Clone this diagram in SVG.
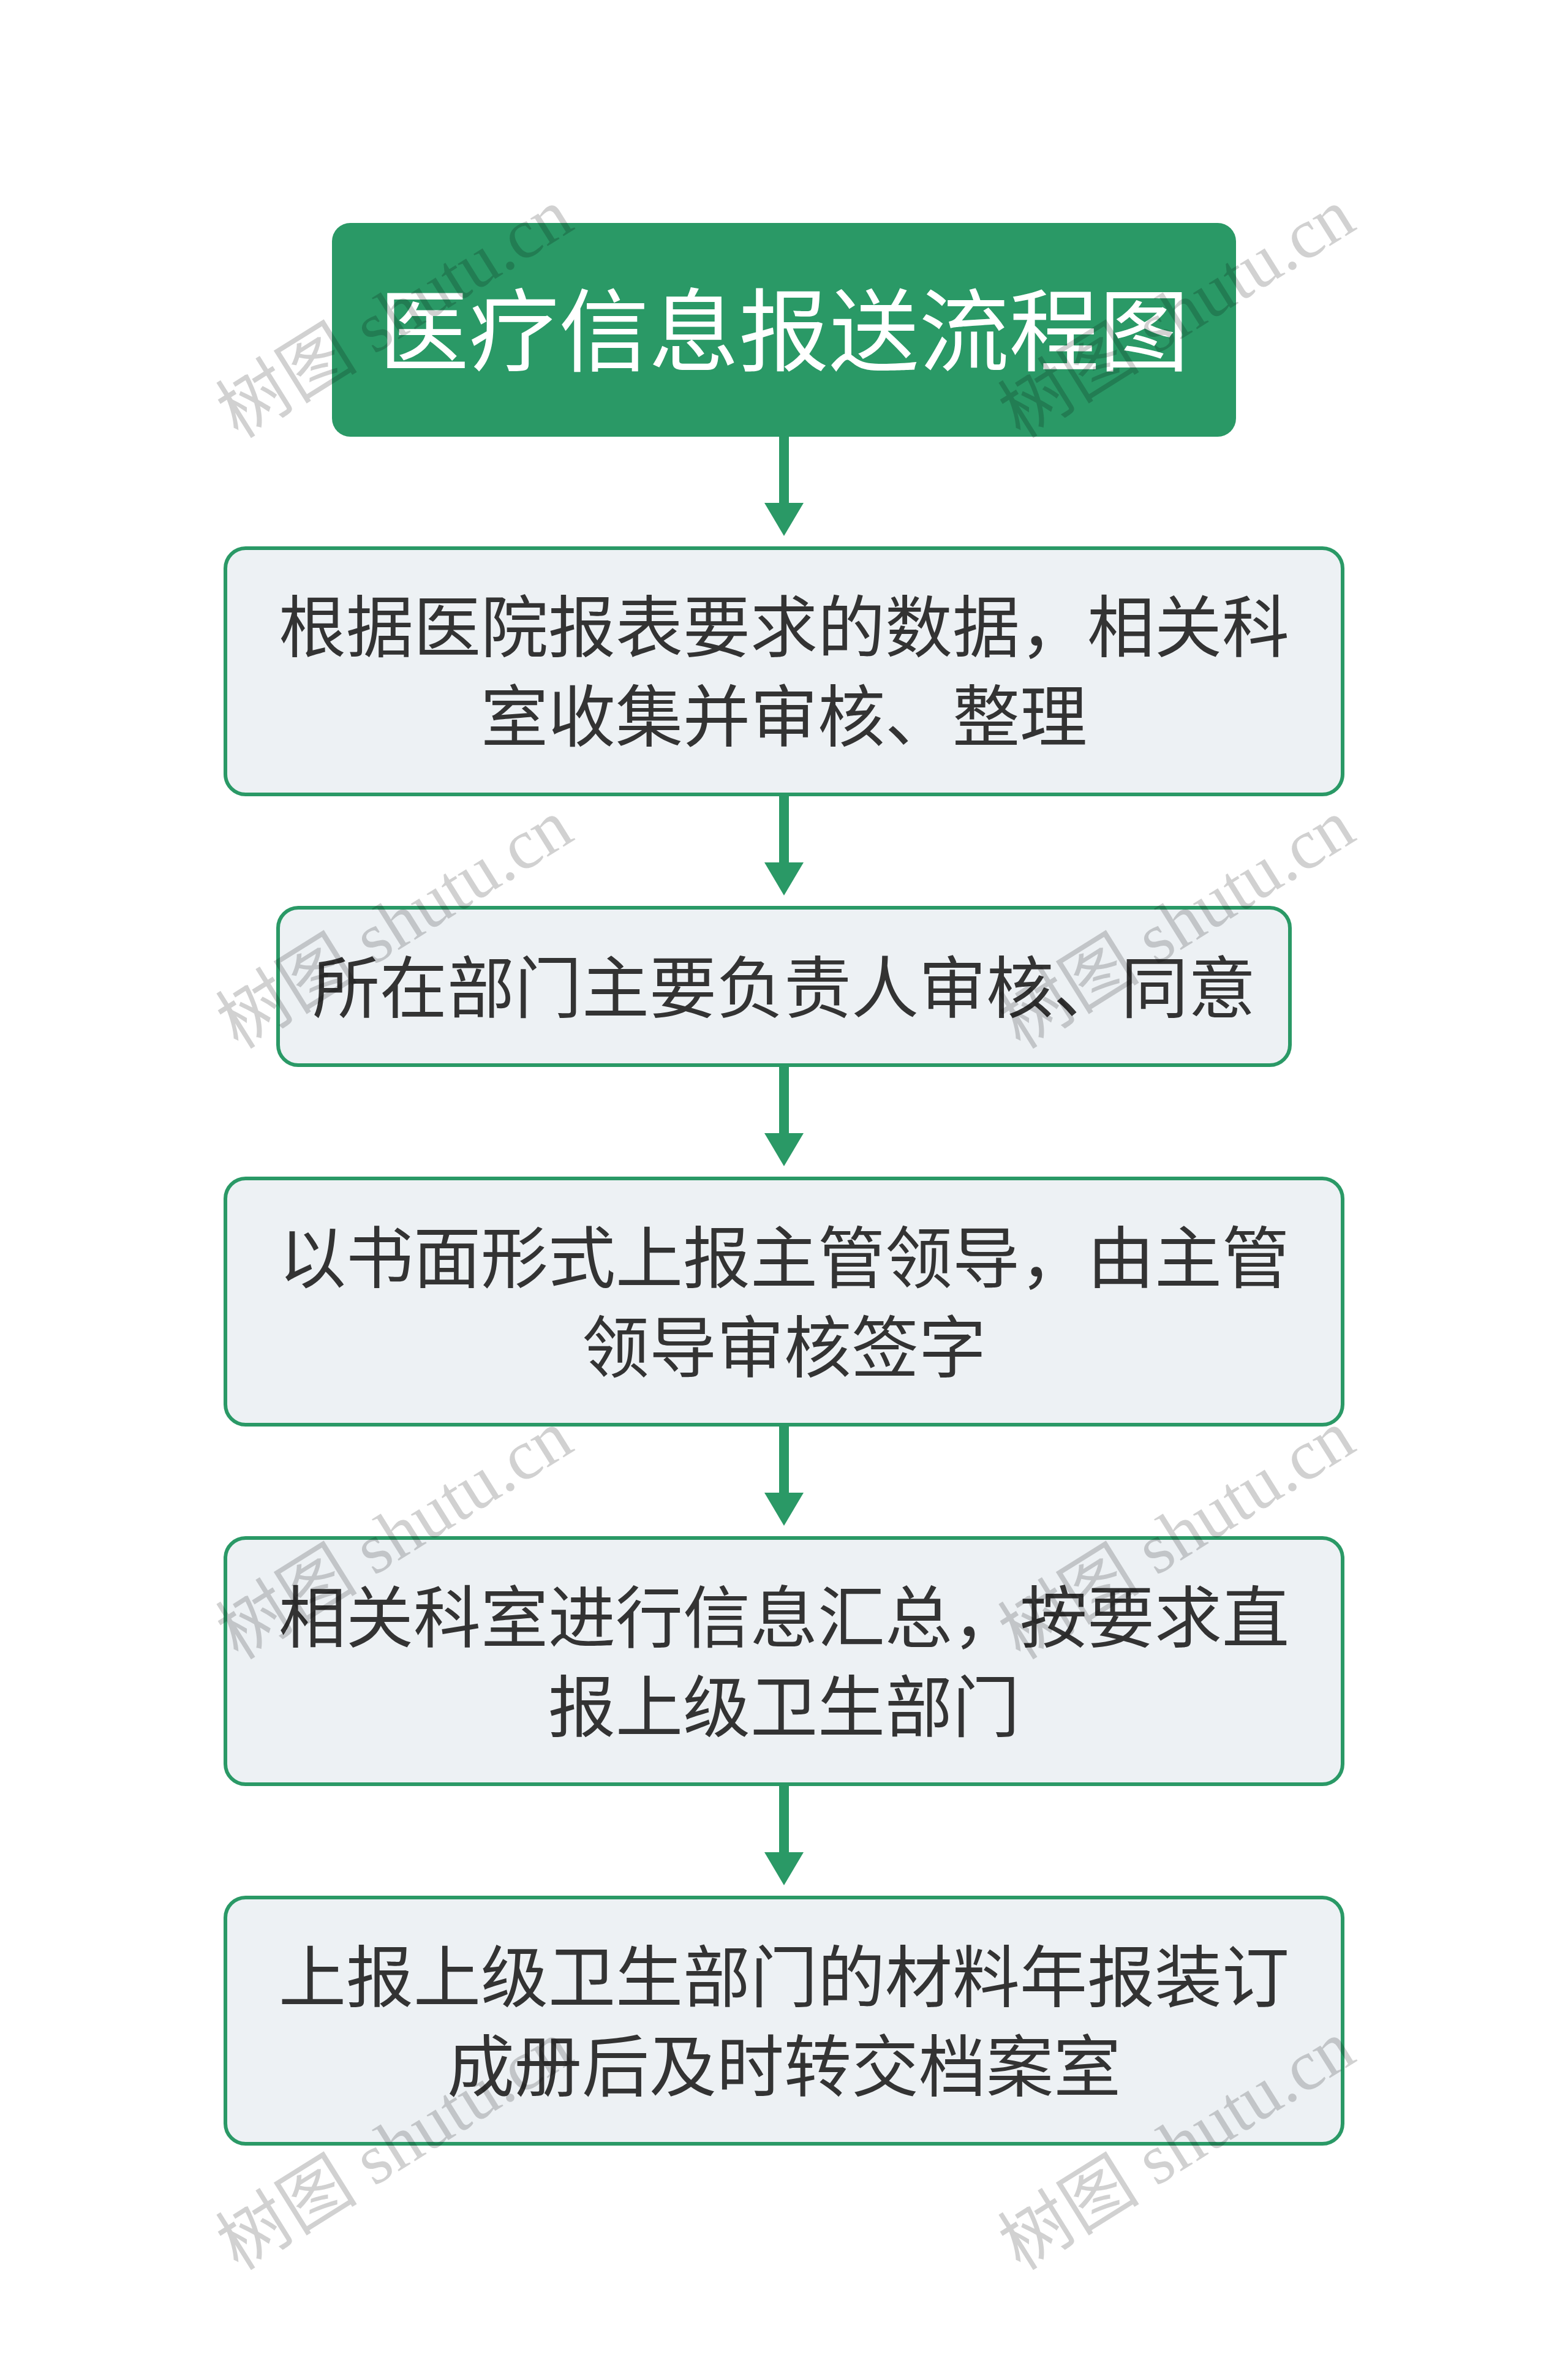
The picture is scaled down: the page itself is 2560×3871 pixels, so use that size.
<svg xmlns="http://www.w3.org/2000/svg" width="2560" height="3871" viewBox="0 0 2560 3871">
  <defs>
    <marker id="ah" viewBox="0 0 54 64" refX="0" refY="32" markerWidth="54" markerHeight="64" markerUnits="userSpaceOnUse" orient="auto">
      <path d="M0,0 L54,32 L0,64 Z" fill="#2a9966"/>
    </marker>
  </defs>
  <style>
    .title-box { fill: #2a9966; }
    .box { fill: #edf1f4; stroke: #2a9966; stroke-width: 6; }
    .title { font-family: "Noto Sans CJK SC", "Noto Sans", sans-serif; font-size: 147px; fill: #ffffff; text-anchor: middle; }
    .label { font-family: "Noto Sans CJK SC", "Noto Sans", sans-serif; font-size: 110px; fill: #333333; text-anchor: middle; }
    .conn { fill: none; stroke: #2a9966; stroke-width: 16; marker-end: url(#ah); }
    .wm { font-family: "Liberation Serif", "Noto Sans CJK SC", serif; font-size: 116px; fill: #000000; fill-opacity: 0.18; text-anchor: middle; }
  </style>
  <rect width="2560" height="3871" fill="#ffffff"/>

  <g id="connectors">
    <path class="conn" d="M1280,713 L1280,821"/>
    <path class="conn" d="M1280,1300 L1280,1408"/>
    <path class="conn" d="M1280,1742 L1280,1850"/>
    <path class="conn" d="M1280,2329 L1280,2437"/>
    <path class="conn" d="M1280,2916 L1280,3024"/>
  </g>

  <g id="node-title">
    <rect class="title-box" x="542" y="364" width="1476" height="349" rx="30"/>
    <text class="title" x="1280" y="594">医疗信息报送流程图</text>
  </g>

  <g id="node-1">
    <rect class="box" x="368" y="895" width="1824" height="402" rx="33"/>
    <text class="label" x="1280" y="1064">根据医院报表要求的数据，相关科</text>
    <text class="label" x="1280" y="1210">室收集并审核、整理</text>
  </g>

  <g id="node-2">
    <rect class="box" x="454" y="1482" width="1652" height="257" rx="33"/>
    <text class="label" x="1280" y="1653">所在部门主要负责人审核、同意</text>
  </g>

  <g id="node-3">
    <rect class="box" x="368" y="1924" width="1824" height="402" rx="33"/>
    <text class="label" x="1280" y="2094">以书面形式上报主管领导，由主管</text>
    <text class="label" x="1280" y="2240">领导审核签字</text>
  </g>

  <g id="node-4">
    <rect class="box" x="368" y="2511" width="1824" height="402" rx="33"/>
    <text class="label" x="1280" y="2681">相关科室进行信息汇总，按要求直</text>
    <text class="label" x="1280" y="2827">报上级卫生部门</text>
  </g>

  <g id="node-5">
    <rect class="box" x="368" y="3098" width="1824" height="402" rx="33"/>
    <text class="label" x="1280" y="3268">上报上级卫生部门的材料年报装订</text>
    <text class="label" x="1280" y="3414">成册后及时转交档案室</text>
  </g>

  <g id="watermarks">
    <text class="wm" transform="translate(665,545) rotate(-32)">树图 shutu.cn</text>
    <text class="wm" transform="translate(1942,545) rotate(-32)">树图 shutu.cn</text>
    <text class="wm" transform="translate(665,1542) rotate(-32)">树图 shutu.cn</text>
    <text class="wm" transform="translate(1942,1542) rotate(-32)">树图 shutu.cn</text>
    <text class="wm" transform="translate(665,2539) rotate(-32)">树图 shutu.cn</text>
    <text class="wm" transform="translate(1942,2539) rotate(-32)">树图 shutu.cn</text>
    <text class="wm" transform="translate(665,3536) rotate(-32)">树图 shutu.cn</text>
    <text class="wm" transform="translate(1942,3536) rotate(-32)">树图 shutu.cn</text>
  </g>
</svg>
